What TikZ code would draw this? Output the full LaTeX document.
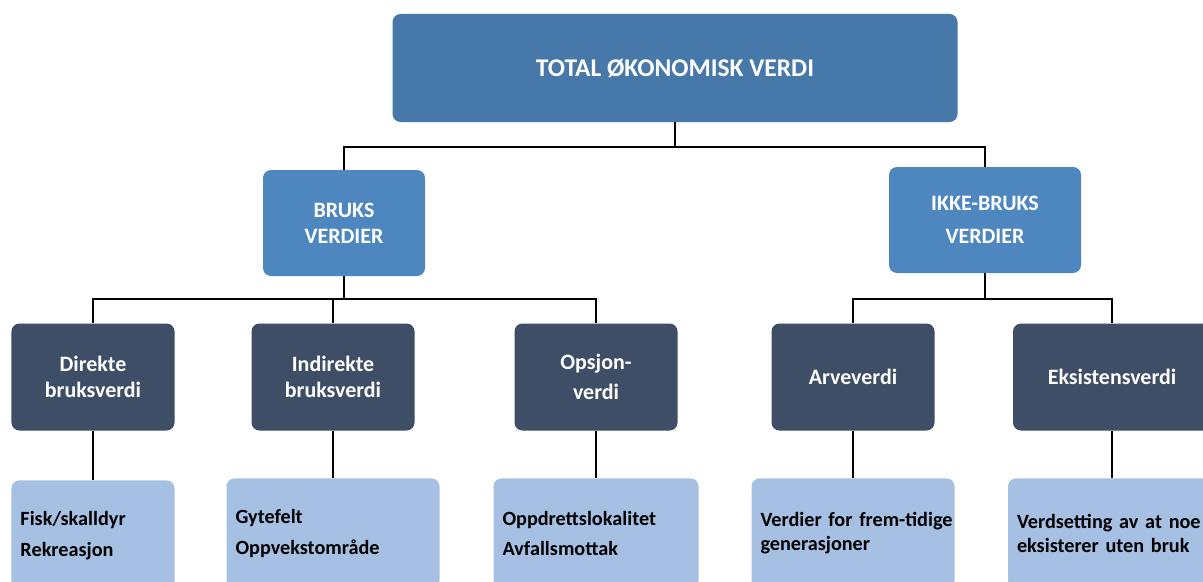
\documentclass[tikz,border=0pt]{standalone}
\usepackage{fontspec}
\setmainfont{Carlito}
\newfontfamily\tightfont{Carlito}[WordSpace=0.6]
\definecolor{topblue}{HTML}{4679A9}
\definecolor{midblue}{HTML}{4E86BF}
\definecolor{slate}{HTML}{3E4E66}
\definecolor{paleblue}{HTML}{A6C0E3}
\tikzset{
  box/.style={rounded corners=1.6mm, text=white, align=center, inner sep=0pt,
    font=\bfseries\fontsize{12.5}{15}\selectfont},
  topbox/.style={box, fill=topblue, minimum width=113mm, minimum height=21.6mm,
    font=\bfseries\fontsize{14.5}{17}\selectfont},
  midbox/.style={box, fill=midblue, minimum height=21.2mm},
  valbox/.style={box, fill=slate, minimum width=32.6mm, minimum height=21.4mm},
  notebox/.style={rounded corners=1.6mm, fill=paleblue, anchor=north, align=left,
    minimum height=22mm, inner xsep=1.8mm, inner ysep=0pt,
    font=\bfseries\fontsize{11.5}{13.5}\selectfont},
  link/.style={line width=1.4pt}
}
\begin{document}
\begin{tikzpicture}[x=0.2mm, y=-0.2mm]
        \clip (0,0) rectangle (1203,581);
        \fill[white] (0,0) rectangle (1203,581);

        % top level
        \node[topbox] (tot) at (675,68) {TOTAL ØKONOMISK VERDI};
        \node[midbox, minimum width=32.4mm] (bruk) at (344,223) {BRUKS\\VERDIER};
        \node[midbox, minimum width=38.4mm] (ikke) at (985,220) {IKKE-BRUKS\\[4pt]VERDIER};

        % value types
        \node[valbox] (dir) at (93,377) {Direkte\\bruksverdi};
        \node[valbox] (indir) at (333,377) {Indirekte\\bruksverdi};
        \node[valbox] (opsj) at (596,377) {Opsjon-\\[2pt]verdi};
        \node[valbox] (arv) at (853,377) {Arveverdi};
        \node[valbox, minimum width=39.6mm] (eks) at (1112,377) {Eksistensverdi};

        % examples
        \node[notebox, text width=29mm] (fisk) at (93,480) {Fisk/skalldyr\\[4pt]Rekreasjon};
        \node[notebox, text width=39mm] (gyte) at (333,478) {Gytefelt\\[4pt]Oppvekstområde};
        \node[notebox, text width=37.4mm] (oppd) at (596,478) {Oppdrettslokalitet\\[4pt]Avfallsmottak};
        \node[notebox, text width=37mm] (verd) at (853,478)
          {\tightfont\mbox{Verdier for frem-tidige}\\generasjoner};
        \node[notebox, text width=38mm] (vset) at (1112,478)
          {\tightfont\mbox{Verdsetting av at noe}\\eksisterer uten bruk};

        \coordinate (J) at (675,147);
        \coordinate (K) at (344,299);
        \coordinate (M) at (985,299);

        \draw[link] (tot) -- (J);
        \draw[link] (bruk) |- (J) -| (ikke);
        \draw[link] (bruk) -- (K);
        \draw[link] (dir) |- (K) -| (opsj);
        \draw[link] (indir) -- (indir |- K);
        \draw[link] (ikke) -- (M);
        \draw[link] (arv) |- (M) -| (eks);
        \draw[link] (dir) -- (fisk);
        \draw[link] (indir) -- (gyte);
        \draw[link] (opsj) -- (oppd);
        \draw[link] (arv) -- (verd);
        \draw[link] (eks) -- (vset);
\end{tikzpicture}
\end{document}
